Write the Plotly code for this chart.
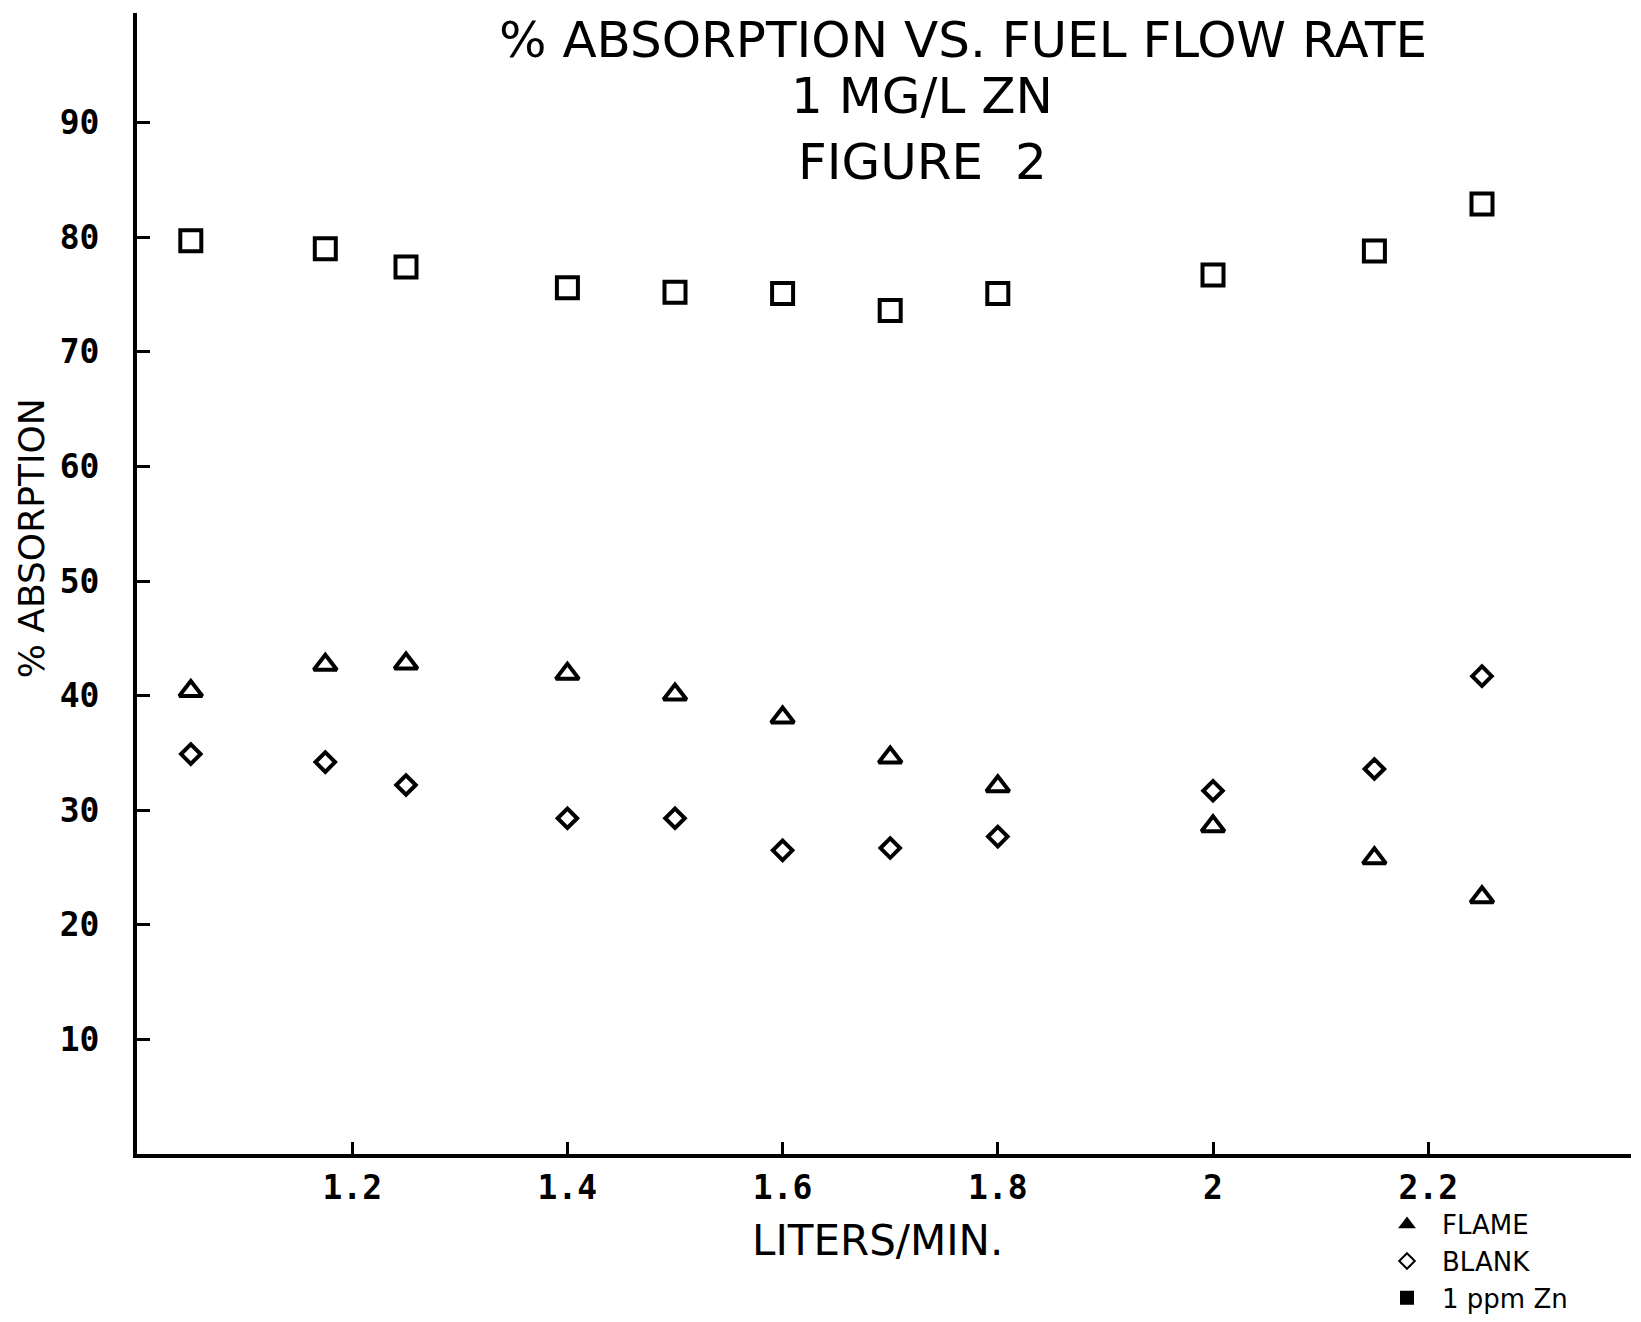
import plotly.graph_objects as go

# ---- data ----
flow = [1.05, 1.175, 1.25, 1.4, 1.5, 1.6, 1.7, 1.8, 2.0, 2.15, 2.25]
zn_1ppm = [79.7, 79.0, 77.4, 75.6, 75.2, 75.1, 73.6, 75.1, 76.7, 78.8, 82.9]
flame = [40.4, 42.7, 42.8, 41.9, 40.1, 38.1, 34.6, 32.1, 28.6, 25.8, 22.4]
blank = [34.9, 34.2, 32.2, 29.3, 29.3, 26.5, 26.7, 27.7, 31.7, 33.6, 41.7]

x_tickvals = [1.2, 1.4, 1.6, 1.8, 2.0, 2.2]
x_ticktext = ["1.2", "1.4", "1.6", "1.8", "2", "2.2"]
y_tickvals = [10, 20, 30, 40, 50, 60, 70, 80, 90]
y_ticktext = ["10", "20", "30", "40", "50", "60", "70", "80", "90"]

title_lines = ["% ABSORPTION VS. FUEL FLOW RATE", "1 MG/L ZN", "FIGURE  2"]
x_title = "LITERS/MIN."
y_title = "% ABSORPTION"
legend_names = ["FLAME", "BLANK", "1 ppm Zn"]

# figure size (page adds 8 px body margins)
W, H = 1625, 1306
OFF = 8


def fx(t):  # target picture x -> figure px
    return t - OFF


def fy(t):  # target picture y -> figure px
    return t - OFF


UNIT = 11.46
Y0 = fy(1153.7)
MT = fy(12.6)
YMAX = (Y0 - MT) / UNIT
MB = H - Y0
ML = fx(137)
MR = 2
PW, PH = W - ML - MR, Y0 - MT
XMAX = 1.0 + PW / 1076.0


def pxf(f):  # figure px -> paper x
    return (f - ML) / PW


def pyf(f):  # figure px -> paper y
    return (Y0 - f) / PH


fig = go.Figure()

mline = dict(color="black", width=4)
fig.add_trace(go.Scatter(x=flow, y=zn_1ppm, mode="markers", showlegend=False,
                         marker=dict(symbol="square-open", size=21, color="black", line=mline)))
fig.add_trace(go.Scatter(x=flow, y=flame, mode="markers", showlegend=False,
                         marker=dict(symbol="triangle-up-open", size=20, color="black", line=mline)))
fig.add_trace(go.Scatter(x=flow, y=blank, mode="markers", showlegend=False,
                         marker=dict(symbol="diamond-open", size=15, color="black", line=mline)))

# legend entries (symbols as in the reference key)
leg_symbols = ["triangle-up", "diamond-open", "square"]
for name, sym in zip(legend_names, leg_symbols):
    fig.add_trace(go.Scatter(x=[None], y=[None], mode="markers", name=name,
                             marker=dict(symbol=sym, size=16, color="black",
                                         line=dict(color="black", width=3))))

tickfont = dict(family="DejaVu Sans Mono", size=33, color="black", weight="bold")
# unlabeled end ticks as on the original axes
fig.update_xaxes(range=[1.0, XMAX], tickvals=x_tickvals + [XMAX], ticktext=x_ticktext + [""],
                 ticks="inside", ticklen=12, tickwidth=3, tickcolor="black",
                 showline=True, linewidth=4, linecolor="black",
                 showgrid=False, zeroline=False, tickfont=tickfont,
                 ticklabelstandoff=1)
fig.update_yaxes(range=[0, YMAX], tickvals=y_tickvals + [YMAX], ticktext=y_ticktext + [""],
                 ticks="inside", ticklen=13, tickwidth=3, tickcolor="black",
                 showline=True, linewidth=4, linecolor="black",
                 showgrid=False, zeroline=False, tickfont=tickfont,
                 ticklabelstandoff=27)

tfont = dict(family="DejaVu Sans", size=50, color="black")
annotations = [
    dict(text=title_lines[0], x=pxf(fx(963)), y=pyf(0.5), yanchor="top", font=tfont),
    dict(text=title_lines[1], x=pxf(fx(922)), y=pyf(fy(96)), font=tfont),
    dict(text=title_lines[2], x=pxf(fx(922)), y=pyf(fy(162)), font=tfont),
    dict(text=x_title, x=pxf(fx(877)), y=pyf(fy(1240)),
         font=dict(family="DejaVu Sans", size=42, color="black")),
    dict(text=y_title, x=pxf(0.5), y=pyf(fy(538)), xanchor="left", textangle=-90,
         font=dict(family="DejaVu Sans", size=36, color="black")),
]
for a in annotations:
    a.setdefault("xanchor", "center")
    a.setdefault("yanchor", "middle")
    a.update(xref="paper", yref="paper", showarrow=False)

fig.update_layout(
    width=W, height=H,
    margin=dict(l=ML, r=MR, t=MT, b=MB, pad=0, autoexpand=False),
    paper_bgcolor="white", plot_bgcolor="white",
    annotations=annotations,
    legend=dict(x=pxf(1364), y=pyf(1192.5), xanchor="left", yanchor="top",
                font=dict(family="DejaVu Sans", size=26, color="black"),
                bgcolor="rgba(0,0,0,0)", tracegroupgap=0, itemsizing="constant",
                itemwidth=60),
)

fig.write_html("out.html")
